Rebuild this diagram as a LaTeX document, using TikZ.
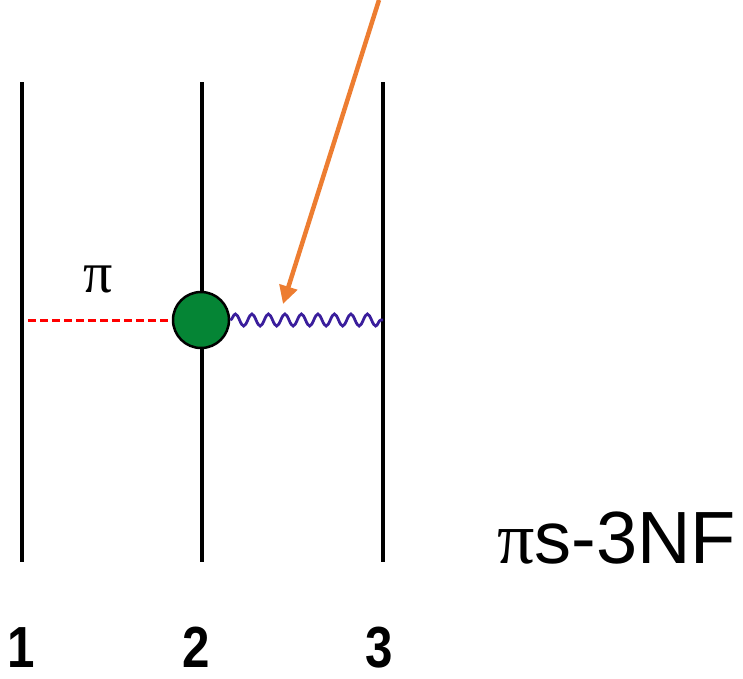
\documentclass[tikz,border=0pt]{standalone}
\usepackage{fontspec}
\setmainfont{Liberation Sans}
\newfontfamily\serifpi{Liberation Serif}
\usetikzlibrary{decorations.pathmorphing,arrows.meta}
\definecolor{vgreen}{HTML}{058535}
\definecolor{wavecol}{HTML}{3A1E9C}
\definecolor{arrorange}{HTML}{ED7D31}
\tikzset{
  nucleon/.style={line width=4.5pt},
  pionline/.style={red, line width=3pt, dash pattern=on 8pt off 4pt},
  wave/.style={wavecol, line width=2.8pt, decorate, decoration={snake, segment length=16.5pt, amplitude=6pt}},
  vertexdot/.style={circle, fill=vgreen, draw=black, line width=2.5pt, minimum size=56pt, inner sep=0pt},
  numlabel/.style={font=\bfseries\fontsize{58}{60}\selectfont, xscale=0.85, anchor=base, inner sep=0pt},
  pointer/.style={arrorange, line width=4.5pt, -{Triangle[length=18pt,width=18pt]}}
}
\begin{document}
\begin{tikzpicture}[x=1pt,y=-1pt]
\useasboundingbox (0,0) rectangle (743,678);
% nucleon lines
\coordinate (t1) at (22,82); \coordinate (b1) at (22,562);
\coordinate (t2) at (202,82); \coordinate (b2) at (202,562);
\coordinate (t3) at (383,82); \coordinate (b3) at (383,562);
\draw[nucleon] (t1) -- (b1);
\draw[nucleon] (t2) -- (b2);
\draw[nucleon] (t3) -- (b3);
% vertex
\node[vertexdot] (v) at (201,320) {};
\coordinate (p1) at (28,320);
\coordinate (w3) at (383,320);
\draw[pionline] (p1) -- (v.west);
\draw[wave] (v.east) -- (w3);
\node[font=\serifpi\fontsize{58}{60}\selectfont, anchor=base, inner sep=0pt] (pilab) at (98,292) {π};
% arrow
\coordinate (astart) at (379,0);
\coordinate (aend) at (283,304);
\draw[pointer] (astart) -- (aend);
% labels
\node[numlabel] (n1) at (21,667) {1};
\node[numlabel] (n2) at (196,667) {2};
\node[numlabel] (n3) at (379,667) {3};
\node[anchor=base west, inner sep=0pt, font=\fontsize{74}{78}\selectfont] (title) at (497,563) {{\serifpi π}s-3NF};
\end{tikzpicture}
\end{document}
